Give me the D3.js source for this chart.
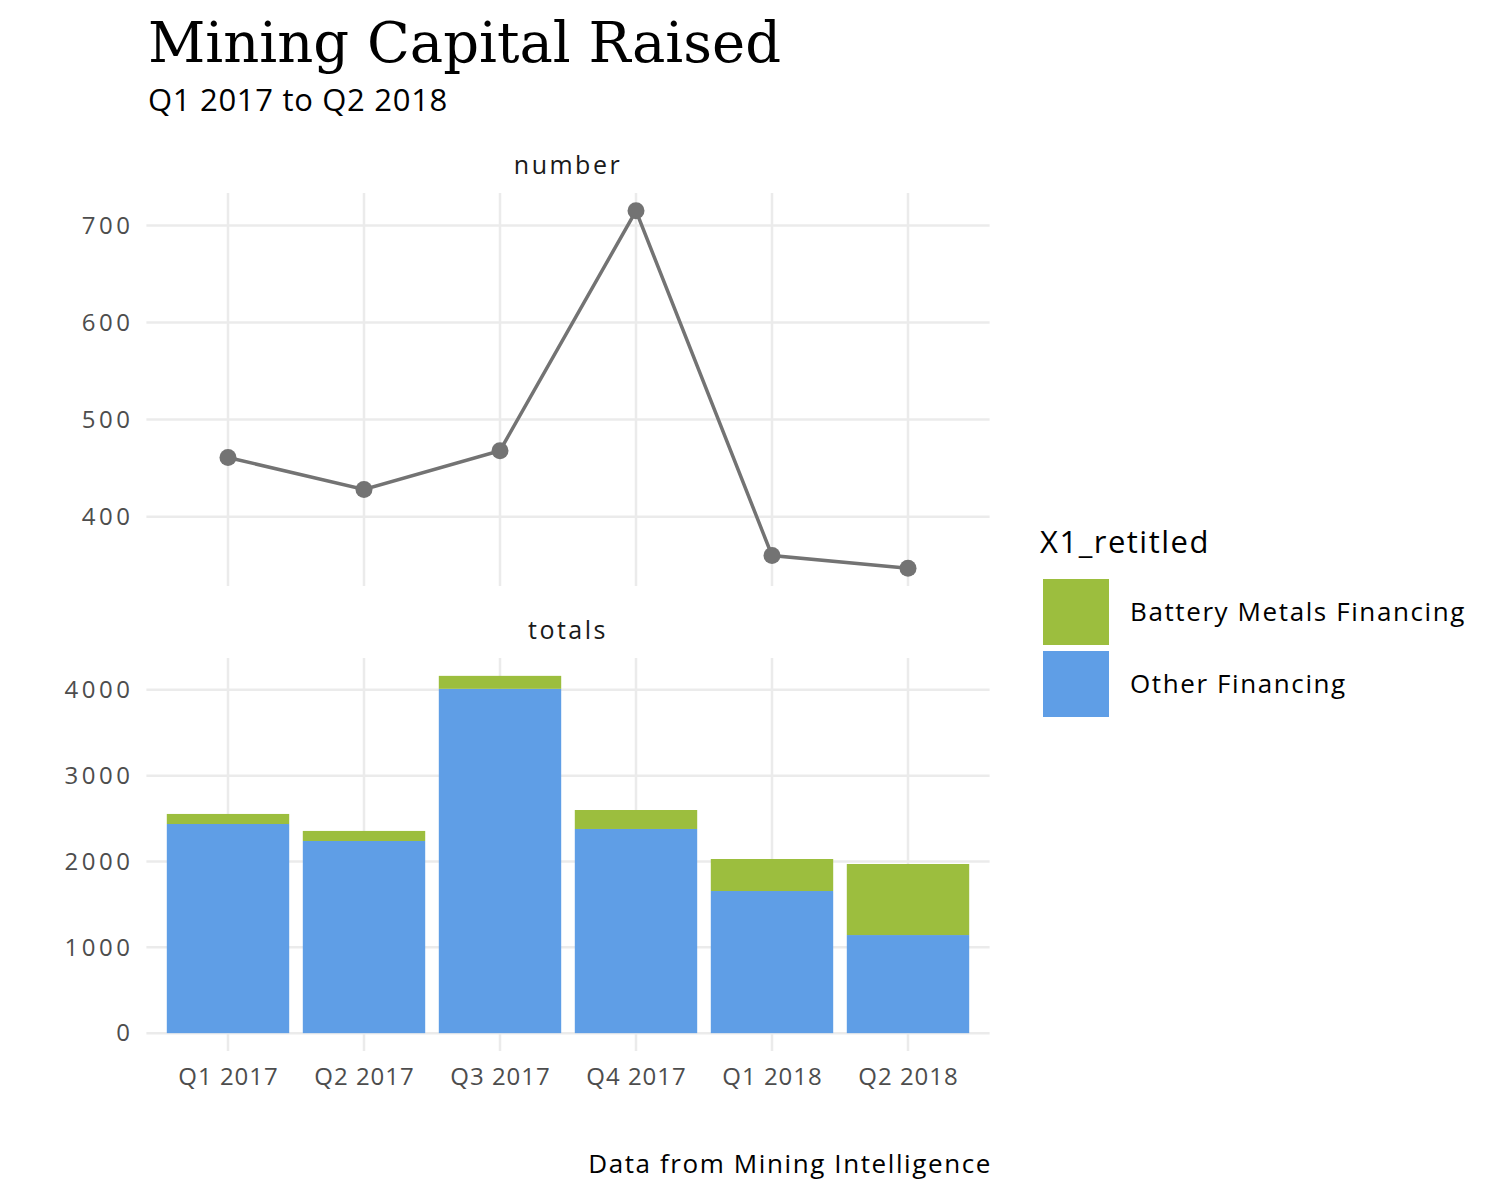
<!DOCTYPE html>
<html>
<head>
<meta charset="utf-8">
<script src="https://cdn.jsdelivr.net/npm/d3@7"></script>
<style>
  body { margin: 0; background: #fff; }
  text { font-family: "Open Sans", "Noto Sans", sans-serif; }
  .title { font-family: "DejaVu Serif", serif; }
</style>
</head>
<body>
<div id="chart"></div>
<script>
// Data
var quarters = ["Q1 2017", "Q2 2017", "Q3 2017", "Q4 2017", "Q1 2018", "Q2 2018"];
var dealCount = [461, 428, 468, 715, 360, 347];
var otherFinancing = [2437, 2239, 4012, 2379, 1656, 1143];
var batteryFinancing = [117, 117, 151, 221, 373, 828];
var seriesNames = ["Battery Metals Financing", "Other Financing"];
var seriesColors = ["#9cbe3e", "#5f9ee6"];
var numberTicks = [400, 500, 600, 700];
var totalTicks = [0, 1000, 2000, 3000, 4000];

var svgWidth = 1500;
var svgHeight = 1200;
var left = 146.4, right = 989.6;

var svg = d3.select("#chart")
  .append("svg")
  .attr("width", svgWidth)
  .attr("height", svgHeight);

// x scale with ggplot style discrete expansion (0.6 units each side)
var xPos = d3.scaleLinear()
  .domain([0.4, quarters.length + 0.6])
  .range([left, right]);
var x = function(i) { return xPos(i + 1); };
var barW = xPos(1.9) - xPos(1);

var gridColor = "#ebebeb";

function styleTicks(sel, spacing) {
  sel.attr("font-size", 24)
    .attr("fill", "#4d4d4d")
    .style("font-family", "'Open Sans', sans-serif")
    .style("letter-spacing", spacing + "px");
}

// ---- top panel: number ----
var top1 = 193, bottom1 = 586;
var yNum = d3.scaleLinear()
  .domain([d3.min(dealCount) - 0.05 * (d3.max(dealCount) - d3.min(dealCount)),
           d3.max(dealCount) + 0.05 * (d3.max(dealCount) - d3.min(dealCount))])
  .range([bottom1, top1]);

var g1 = svg.append("g");

g1.selectAll(".hgrid")
  .data(numberTicks)
  .enter().append("line")
  .attr("x1", left).attr("x2", right)
  .attr("y1", d => yNum(d)).attr("y2", d => yNum(d))
  .attr("stroke", gridColor).attr("stroke-width", 2.5);

g1.selectAll(".vgrid")
  .data(quarters)
  .enter().append("line")
  .attr("x1", (d, i) => x(i)).attr("x2", (d, i) => x(i))
  .attr("y1", top1).attr("y2", bottom1)
  .attr("stroke", gridColor).attr("stroke-width", 2.5);

var leftAxisNum = d3.axisLeft(yNum).tickValues(numberTicks)
  .tickFormat(d3.format("d")).tickSize(0).tickPadding(13);
g1.append("g")
  .attr("transform", `translate(${left}, 0)`)
  .call(leftAxisNum)
  .call(g => g.select(".domain").remove())
  .selectAll("text")
  .call(styleTicks, 3.5);

var line = d3.line()
  .x((d, i) => x(i))
  .y(d => yNum(d));

g1.append("path")
  .datum(dealCount)
  .attr("d", line)
  .attr("fill", "none")
  .attr("stroke", "#737373")
  .attr("stroke-width", 3.5);

g1.selectAll("circle")
  .data(dealCount)
  .enter().append("circle")
  .attr("cx", (d, i) => x(i))
  .attr("cy", d => yNum(d))
  .attr("r", 8.5)
  .attr("fill", "#737373");

svg.append("text")
  .attr("x", (left + right) / 2)
  .attr("y", 174)
  .attr("text-anchor", "middle")
  .attr("font-size", 25)
  .attr("fill", "#1a1a1a")
  .style("letter-spacing", "2.5px")
  .text("number");

// ---- bottom panel: totals ----
var top2 = 658, bottom2 = 1051;
var maxTotal = d3.max(quarters.map((q, i) => otherFinancing[i] + batteryFinancing[i]));
var yTot = d3.scaleLinear()
  .domain([-0.05 * maxTotal, 1.05 * maxTotal])
  .range([bottom2, top2]);

var g2 = svg.append("g");

g2.selectAll(".hgrid")
  .data(totalTicks)
  .enter().append("line")
  .attr("x1", left).attr("x2", right)
  .attr("y1", d => yTot(d)).attr("y2", d => yTot(d))
  .attr("stroke", gridColor).attr("stroke-width", 2.5);

g2.selectAll(".vgrid")
  .data(quarters)
  .enter().append("line")
  .attr("x1", (d, i) => x(i)).attr("x2", (d, i) => x(i))
  .attr("y1", top2).attr("y2", bottom2)
  .attr("stroke", gridColor).attr("stroke-width", 2.5);

var stackData = quarters.map((q, i) => ({
  quarter: q, idx: i,
  other: otherFinancing[i],
  battery: batteryFinancing[i]
}));
var stack = d3.stack().keys(["other", "battery"]);
var layers = stack(stackData);
var layerColor = { other: seriesColors[1], battery: seriesColors[0] };

g2.selectAll(".layer")
  .data(layers)
  .enter().append("g")
  .attr("fill", d => layerColor[d.key])
  .selectAll("rect")
  .data(d => d)
  .enter().append("rect")
  .attr("x", d => x(d.data.idx) - barW / 2)
  .attr("width", barW)
  .attr("y", d => yTot(d[1]))
  .attr("height", d => yTot(d[0]) - yTot(d[1]));

var leftAxisTot = d3.axisLeft(yTot).tickValues(totalTicks)
  .tickFormat(d3.format("d")).tickSize(0).tickPadding(13);
g2.append("g")
  .attr("transform", `translate(${left}, 0)`)
  .call(leftAxisTot)
  .call(g => g.select(".domain").remove())
  .selectAll("text")
  .call(styleTicks, 3.5);

var xBand = d3.scalePoint().domain(quarters).range([x(0), x(quarters.length - 1)]);
g2.append("g")
  .attr("transform", `translate(0, ${bottom2})`)
  .call(d3.axisBottom(xBand).tickSize(0).tickPadding(17))
  .call(g => g.select(".domain").remove())
  .selectAll("text")
  .call(styleTicks, 1);

svg.append("text")
  .attr("x", (left + right) / 2)
  .attr("y", 639)
  .attr("text-anchor", "middle")
  .attr("font-size", 25)
  .attr("fill", "#1a1a1a")
  .style("letter-spacing", "2.5px")
  .text("totals");

// ---- titles ----
svg.append("text")
  .attr("class", "title")
  .attr("x", 148)
  .attr("y", 62)
  .attr("font-size", 56)
  .attr("fill", "#000")
  .text("Mining Capital Raised");

svg.append("text")
  .attr("x", 148)
  .attr("y", 111)
  .attr("font-size", 31)
  .attr("fill", "#000")
  .style("letter-spacing", "0.7px")
  .text("Q1 2017 to Q2 2018");

svg.append("text")
  .attr("x", 992)
  .attr("y", 1173)
  .attr("text-anchor", "end")
  .attr("font-size", 26)
  .attr("fill", "#000")
  .style("letter-spacing", "1.6px")
  .text("Data from Mining Intelligence");

// ---- legend ----
var legend = svg.append("g").attr("transform", "translate(1043, 0)");
legend.append("text")
  .attr("x", -3)
  .attr("y", 553)
  .attr("font-size", 31)
  .attr("fill", "#000")
  .style("letter-spacing", "1.5px")
  .text("X1_retitled");

var legendItems = legend.selectAll(".item")
  .data(seriesNames)
  .enter().append("g")
  .attr("transform", (d, i) => `translate(0, ${579 + i * 72})`);

legendItems.append("rect")
  .attr("width", 66).attr("height", 66)
  .attr("fill", (d, i) => seriesColors[i]);

legendItems.append("text")
  .attr("x", 87)
  .attr("y", 33)
  .attr("dy", "0.35em")
  .attr("font-size", 26)
  .attr("fill", "#000")
  .style("letter-spacing", "1.6px")
  .text(d => d);
</script>
</body>
</html>
